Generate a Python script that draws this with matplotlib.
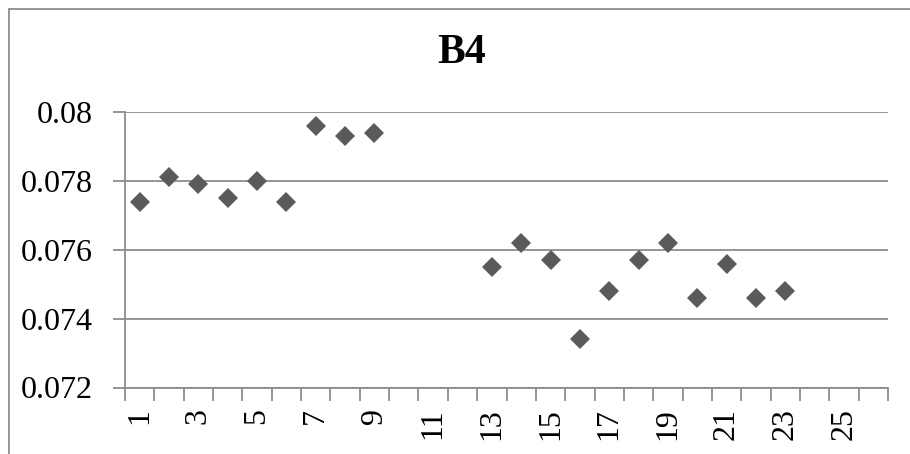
import numpy as np
import matplotlib
matplotlib.use("Agg")
import matplotlib.pyplot as plt
from matplotlib.patches import Rectangle

# Readings for each sample position (None = no reading)
positions = list(range(1, 27))
readings = [0.0774, 0.0781, 0.0779, 0.0775, 0.0780, 0.0774, 0.0796, 0.0793, 0.0794,
            None, None, None,
            0.0755, 0.0762, 0.0757, 0.0734, 0.0748, 0.0757, 0.0762, 0.0746,
            0.0756, 0.0746, 0.0748,
            None, None, None]
y_ticks = [0.072, 0.074, 0.076, 0.078, 0.08]
y_labels = ["0.072", "0.074", "0.076", "0.078", "0.08"]

plt.rcParams['font.family'] = ['Liberation Serif', 'DejaVu Serif']

fig = plt.figure(figsize=(9.1, 4.54), dpi=100)
ax = fig.add_axes([125 / 910, 1 - 387.5 / 454, (888 - 125) / 910, (387.5 - 112) / 454])

x = np.array(positions, dtype=float)
y = np.array([np.nan if v is None else v for v in readings])
ax.plot(x, y, linestyle='none', marker='D', markersize=10, color='#5a5a5a',
        markeredgewidth=0)

ax.set_xlim(0.5, 26.5)
ax.set_ylim(0.072, 0.08)

gray = '#8c8c8c'
ax.set_yticks(y_ticks)
ax.set_yticklabels(y_labels, fontsize=23)
ax.grid(axis='y', color=gray, linewidth=1.3)
ax.set_axisbelow(True)

# category boundaries get tick marks, every other category gets a label
ax.set_xticks(np.arange(0.5, 27, 1.0))
ax.set_xticklabels([])
ax.tick_params(axis='x', length=9, width=1.3, color=gray, direction='out')
ax.tick_params(axis='y', length=9, width=1.3, color=gray, direction='out', pad=14)
for p in positions[::2]:
    ax.text(p, -0.074, str(p), transform=ax.get_xaxis_transform(),
            rotation=90, fontsize=23, ha='center', va='top')

for side in ['top', 'right']:
    ax.spines[side].set_visible(False)
for side in ['left', 'bottom']:
    ax.spines[side].set_color(gray)
    ax.spines[side].set_linewidth(1.3)

fig.text(462 / 910, 1 - 53 / 454, "B4", fontsize=30, fontweight='bold',
         ha='center', va='center')

# chart frame, runs off the right and bottom edges
fig.patches.append(Rectangle((8.5 / 910, -0.05), 1.1, 1 - 8.5 / 454 + 0.05,
                             transform=fig.transFigure, fill=False,
                             edgecolor=gray, linewidth=1.3))

fig.savefig("out.png", dpi=100)
